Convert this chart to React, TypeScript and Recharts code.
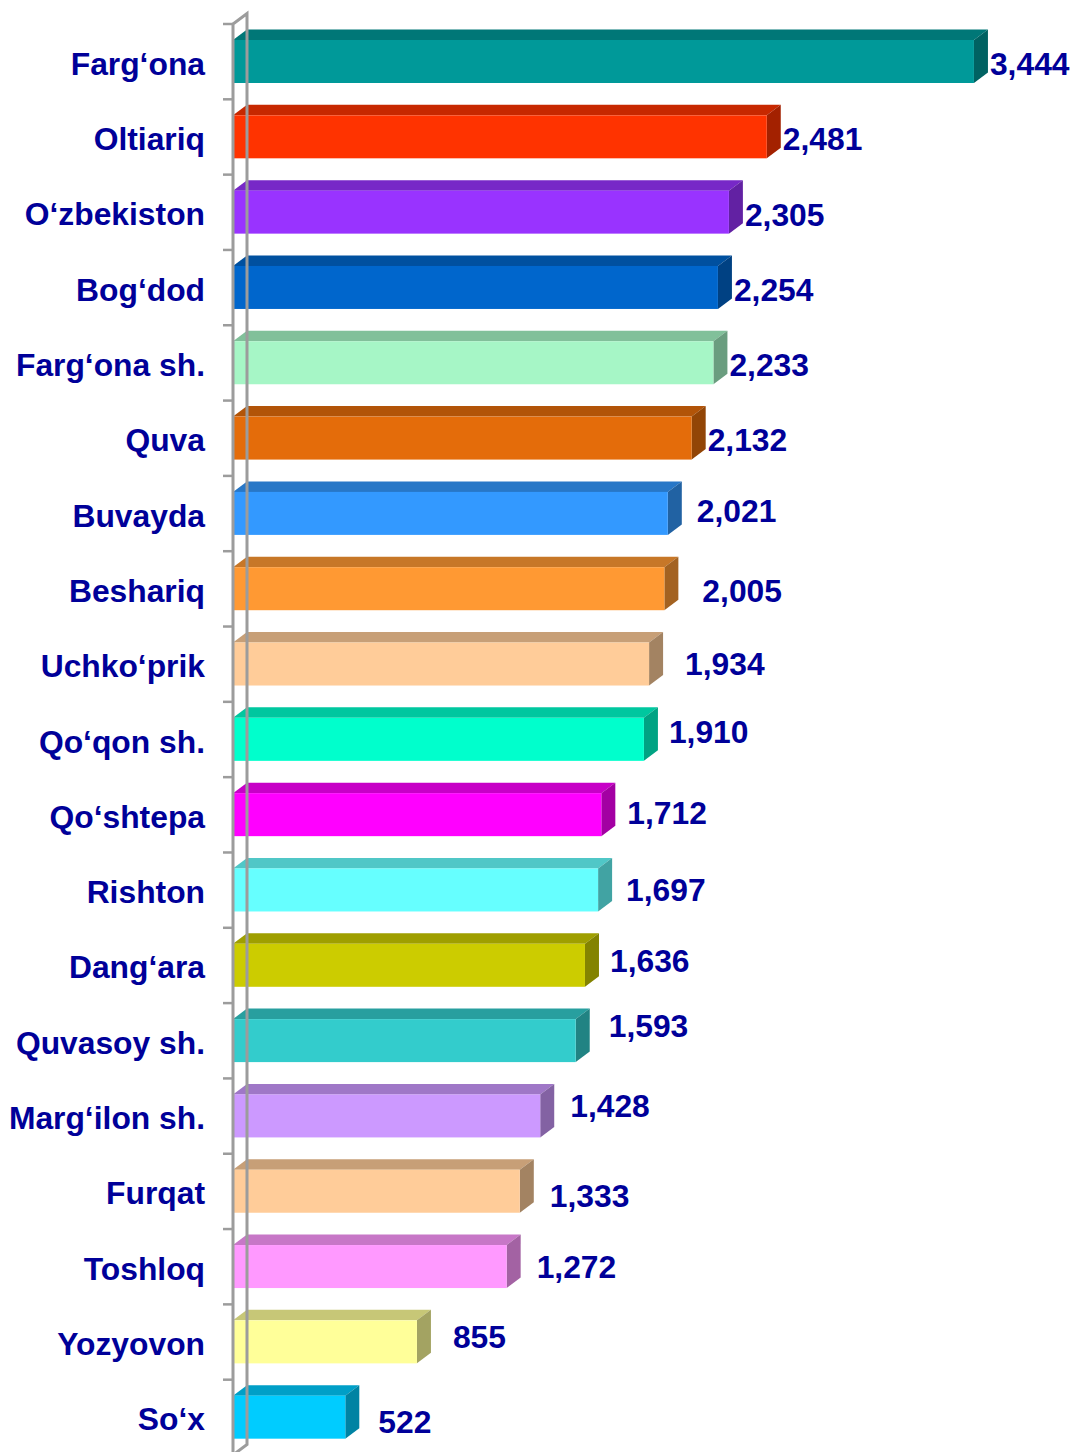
import React from 'react';
import { BarChart, Bar, XAxis, YAxis, ReferenceLine } from 'recharts';

const categories = [
  'Farg‘ona', 'Oltiariq', 'O‘zbekiston', 'Bog‘dod', 'Farg‘ona sh.', 'Quva', 'Buvayda',
  'Beshariq', 'Uchko‘prik', 'Qo‘qon sh.', 'Qo‘shtepa', 'Rishton', 'Dang‘ara',
  'Quvasoy sh.', 'Marg‘ilon sh.', 'Furqat', 'Toshloq', 'Yozyovon', 'So‘x',
];
const values = [3444, 2481, 2305, 2254, 2233, 2132, 2021, 2005, 1934, 1910, 1712, 1697, 1636, 1593, 1428, 1333, 1272, 855, 522];
const barColors = [
  '#009999', '#FF3300', '#9933FF', '#0066CC', '#A6F6C6', '#E46C0A', '#3399FF',
  '#FF9933', '#FFCC99', '#00FFCC', '#FF00FF', '#66FFFF', '#CCCC00',
  '#33CCCC', '#CC99FF', '#FFCC99', '#FF99FF', '#FFFF99', '#00CCFF',
];
// manual nudges of the value labels (as placed in the original)
const labelNudgeX = [2, 2, 2, 2, 2, 2, 15, 24, 22, 11, 12, 14, 11, 19, 16, 16, 16, 22, 19];
const labelNudgeY = [2, 2, 2, 2, 2, 2, -3, 2, 0, -8, -2, 0, -5, -15, -10, 4, 0, -5, 4];

const data = categories.map((name, i) => ({
  name,
  value: values[i],
  color: barColors[i],
  ndx: labelNudgeX[i],
  ndy: labelNudgeY[i],
}));

const FONT = '"Liberation Sans", Arial, Helvetica, sans-serif';
const TEXT_COLOR = '#000099';
const FS = 31.8;
const DEPTH_X = 14;
const DEPTH_Y = 10.5;
const WALL = '#9C9C9C';

function shade(hex: string, f: number) {
  const n = parseInt(hex.slice(1), 16);
  const r = Math.round(((n >> 16) & 255) * f);
  const g = Math.round(((n >> 8) & 255) * f);
  const b = Math.round((n & 255) * f);
  return `rgb(${r},${g},${b})`;
}

const Bar3D = (props: any) => {
  const { x, y, width, height, payload } = props;
  if (width == null || height == null) return null;
  const c = payload.color;
  const top = `${x},${y} ${x + width},${y} ${x + width + DEPTH_X},${y - DEPTH_Y} ${x + DEPTH_X},${y - DEPTH_Y}`;
  const side = `${x + width},${y} ${x + width + DEPTH_X},${y - DEPTH_Y} ${x + width + DEPTH_X},${y + height - DEPTH_Y} ${x + width},${y + height}`;
  const lx = x + width + DEPTH_X + payload.ndx;
  const ly = y + height / 2 + payload.ndy + FS * 0.358;
  return (
    <g>
      <polygon points={top} fill={shade(c, 0.78)} />
      <polygon points={side} fill={shade(c, 0.64)} />
      <rect x={x} y={y} width={width} height={height} fill={c} />
      <text
        x={lx}
        y={ly}
        fill={TEXT_COLOR}
        fontFamily={FONT}
        fontWeight="bold"
        fontSize={FS}
        textAnchor="start"
      >
        {payload.value.toLocaleString('en-US')}
      </text>
    </g>
  );
};

const Wall = (props: any) => {
  const { x1, y1, y2 } = props;
  if (x1 == null) return null;
  const yt = Math.min(y1, y2);
  const yb = Math.max(y1, y2);
  const n = categories.length;
  const step = (yb - yt) / n;
  const ticks = [];
  for (let k = 0; k <= n; k++) {
    const ty = yt + k * step;
    ticks.push(<line key={k} x1={x1 - 10} y1={ty} x2={x1} y2={ty} stroke={WALL} strokeWidth={2.5} />);
  }
  return (
    <g>
      <path
        d={`M${x1},${yb} L${x1},${yt} L${x1 + DEPTH_X},${yt - DEPTH_Y} L${x1 + DEPTH_X},${yb - DEPTH_Y} L${x1},${yb}`}
        fill="none"
        stroke={WALL}
        strokeWidth={3}
      />
      {ticks}
    </g>
  );
};

const CategoryTick = (props: any) => {
  const { x, y, payload } = props;
  return (
    <text
      x={x}
      y={y + 13}
      fill={TEXT_COLOR}
      fontFamily={FONT}
      fontWeight="bold"
      fontSize={FS}
      textAnchor="end"
    >
      {payload.value}
    </text>
  );
};

export default function App() {
  return (
    <div style={{ position: 'absolute', left: 0, top: 0, width: 1074, height: 1452, overflow: 'hidden', background: '#fff' }}>
      <BarChart
        width={1074}
        height={1460}
        data={data}
        layout="vertical"
        margin={{ top: 24, right: 88, bottom: 5, left: 0 }}
        barCategoryGap={0}
        style={{ overflow: 'visible' }}
      >
        <XAxis type="number" domain={[0, 3500]} hide />
        <YAxis
          type="category"
          dataKey="name"
          width={233}
          axisLine={false}
          tickLine={false}
          tickSize={0}
          tickMargin={28}
          interval={0}
          tick={CategoryTick}
        />
        <ReferenceLine x={0} shape={Wall} />
        <Bar dataKey="value" barSize={43} shape={Bar3D} isAnimationActive={false} />
      </BarChart>
    </div>
  );
}
